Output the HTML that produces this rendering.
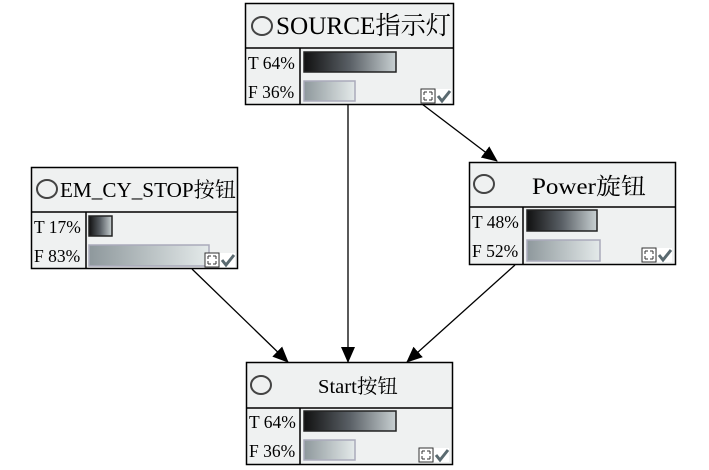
<!DOCTYPE html>
<html><head><meta charset="utf-8"><style>
html,body{margin:0;padding:0;background:#fff;}
svg{display:block;font-family:"Liberation Serif","Noto Serif CJK SC",serif;}
</style></head><body>
<svg width="709" height="470" viewBox="0 0 709 470" xmlns="http://www.w3.org/2000/svg">
<defs>
<linearGradient id="gT" x1="0" x2="1" y1="0" y2="0"><stop offset="0" stop-color="#111"/><stop offset="0.5" stop-color="#5a6066"/><stop offset="1" stop-color="#c8d0d2"/></linearGradient>
<linearGradient id="gF" x1="0" x2="1" y1="0" y2="0"><stop offset="0" stop-color="#8e989c"/><stop offset="1" stop-color="#e4eaea"/></linearGradient>
<marker id="ar" markerWidth="16" markerHeight="16" refX="15" refY="7" orient="auto" markerUnits="userSpaceOnUse" viewBox="0 0 16 14"><path d="M0,0 L16,7 L0,14 z" fill="#000"/></marker>
<g id="icons">
<rect x="0" y="0" width="14" height="14" fill="#fff" stroke="#333" stroke-width="1"/>
<path d="M3,3h3M3,3v3M11,3h-3M11,3v3M3,11h3M3,11v-3M11,11h-3M11,11v-3" stroke="#333" stroke-width="1"/>
<rect x="15" y="0" width="15" height="14" fill="#fff"/>
<path d="M17,7 L21,12 L29,2" stroke="#5a6a70" stroke-width="3" fill="none"/>
</g>
</defs>
<g stroke="#000" stroke-width="1.3" fill="none">
<line x1="348" y1="104" x2="348" y2="362" marker-end="url(#ar)"/>
<line x1="422" y1="104" x2="497" y2="161" marker-end="url(#ar)"/>
<line x1="192" y1="269" x2="288" y2="362" marker-end="url(#ar)"/>
<line x1="515" y1="265" x2="407" y2="362" marker-end="url(#ar)"/>
</g>

<g transform="translate(245,3)">
<rect x="0.5" y="0.5" width="208" height="101" fill="#eff1f1" stroke="#000" stroke-width="1.5"/>
<line x1="0" y1="45" x2="208" y2="45" stroke="#000" stroke-width="1.5"/>
<line x1="55" y1="45" x2="55" y2="101" stroke="#000" stroke-width="1.5"/>
<ellipse cx="17" cy="23" rx="10" ry="9" fill="none" stroke="#444" stroke-width="2"/>
<text x="31" y="31" font-size="25" textLength="175" lengthAdjust="spacingAndGlyphs">SOURCE指示灯</text>
<text x="3" y="66" font-size="17.5">T 64%</text>
<text x="3" y="95" font-size="17.5">F 36%</text>
<rect x="59" y="49" width="92" height="20" fill="url(#gT)" stroke="#222" stroke-width="1.5"/>
<rect x="59" y="78" width="51" height="20" fill="url(#gF)" stroke="#aab" stroke-width="1.5"/>
<use href="#icons" x="176" y="86"/>
</g>

<g transform="translate(31,167)">
<rect x="0.5" y="0.5" width="206" height="101" fill="#eff1f1" stroke="#000" stroke-width="1.5"/>
<line x1="0" y1="45" x2="206" y2="45" stroke="#000" stroke-width="1.5"/>
<line x1="55" y1="45" x2="55" y2="101" stroke="#000" stroke-width="1.5"/>
<ellipse cx="16" cy="22" rx="10" ry="9" fill="none" stroke="#444" stroke-width="2"/>
<text x="29" y="30" font-size="21" textLength="176" lengthAdjust="spacingAndGlyphs">EM_CY_STOP按钮</text>
<text x="3" y="66" font-size="17.5">T 17%</text>
<text x="3" y="95" font-size="17.5">F 83%</text>
<rect x="58" y="49" width="23" height="20" fill="url(#gT)" stroke="#222" stroke-width="1.5"/>
<rect x="58" y="78" width="120" height="21" fill="url(#gF)" stroke="#aab" stroke-width="1.5"/>
<use href="#icons" x="174" y="86"/>
</g>

<g transform="translate(469,162)">
<rect x="0.5" y="0.5" width="206" height="102" fill="#eff1f1" stroke="#000" stroke-width="1.5"/>
<line x1="0" y1="45" x2="206" y2="45" stroke="#000" stroke-width="1.5"/>
<line x1="54" y1="45" x2="54" y2="102" stroke="#000" stroke-width="1.5"/>
<ellipse cx="15" cy="22" rx="10" ry="9" fill="none" stroke="#444" stroke-width="2"/>
<text x="63" y="32" font-size="23" textLength="114" lengthAdjust="spacingAndGlyphs">Power旋钮</text>
<text x="3" y="66" font-size="17.5">T 48%</text>
<text x="3" y="95" font-size="17.5">F 52%</text>
<rect x="58" y="48" width="70" height="21" fill="url(#gT)" stroke="#222" stroke-width="1.5"/>
<rect x="58" y="78" width="73" height="21" fill="url(#gF)" stroke="#aab" stroke-width="1.5"/>
<use href="#icons" x="173" y="86"/>
</g>

<g transform="translate(246,362)">
<rect x="0.5" y="0.5" width="206" height="102" fill="#eff1f1" stroke="#000" stroke-width="1.5"/>
<line x1="0" y1="46" x2="206" y2="46" stroke="#000" stroke-width="1.5"/>
<line x1="54" y1="46" x2="54" y2="102" stroke="#000" stroke-width="1.5"/>
<ellipse cx="15" cy="23" rx="10" ry="9" fill="none" stroke="#444" stroke-width="2"/>
<text x="72" y="31" font-size="20" textLength="80" lengthAdjust="spacingAndGlyphs">Start按钮</text>
<text x="3" y="66" font-size="17.5">T 64%</text>
<text x="3" y="95" font-size="17.5">F 36%</text>
<rect x="58" y="49" width="92" height="20" fill="url(#gT)" stroke="#222" stroke-width="1.5"/>
<rect x="58" y="78" width="51" height="20" fill="url(#gF)" stroke="#aab" stroke-width="1.5"/>
<use href="#icons" x="173" y="86"/>
</g>
</svg>
</body></html>
